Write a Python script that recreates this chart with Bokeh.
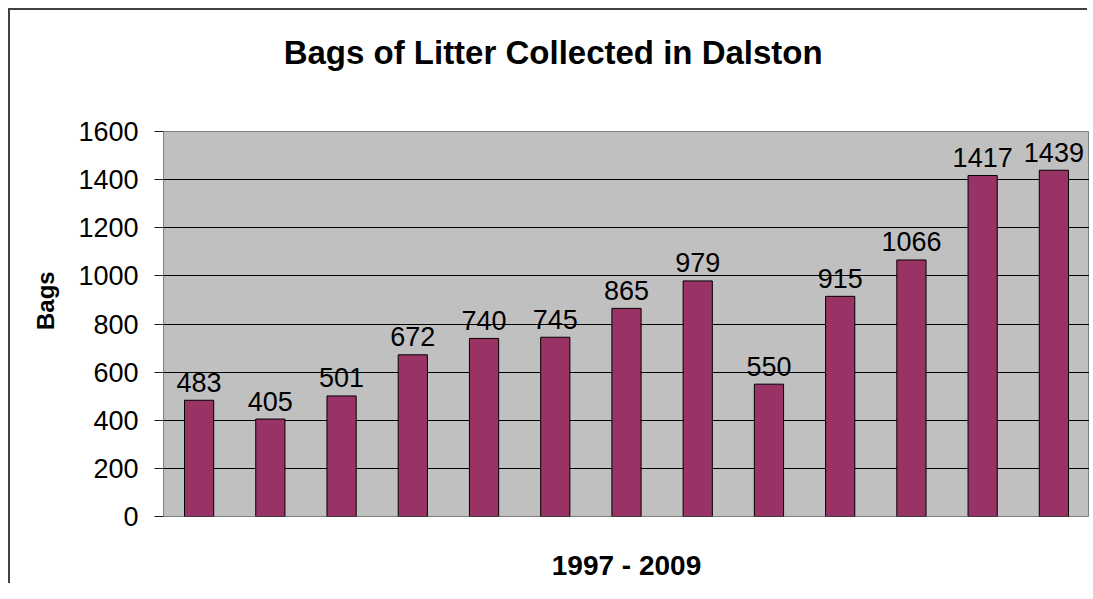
from bokeh.plotting import figure
from bokeh.layouts import column
from bokeh.models import Range1d, FactorRange, FixedTicker, ColumnDataSource, CategoricalAxis
from bokeh.embed import file_html
from bokeh.resources import INLINE

years = [str(y) for y in range(1997, 2010)]
bags = [483, 405, 501, 672, 740, 745, 865, 979, 550, 915, 1066, 1417, 1439]
y_ticks = [0, 200, 400, 600, 800, 1000, 1200, 1400, 1600]
title_text = "Bags of Litter Collected in Dalston"
x_label = "1997 - 2009"
y_label = "Bags"

FONT = "Liberation Sans"
NBSP = "\u00a0"

source = ColumnDataSource(dict(x=years, top=bags, label=[str(v) for v in bags]))

p = figure(
    width=1079, height=575,
    x_range=FactorRange(*years, range_padding=0),
    y_range=Range1d(0, 1600),
    output_backend="svg", toolbar_location=None, title=None,
    min_border_left=153, min_border_right=0, min_border_top=121, min_border_bottom=69,
)

p.background_fill_color = "#C0C0C0"
p.border_fill_color = "white"
p.outline_line_color = "#808080"
p.outline_line_width = 1


def label_only_axis(ax, text, standoff, size):
    ax.ticker = FixedTicker(ticks=[])
    ax.major_label_standoff = 0
    ax.major_tick_line_color = None
    ax.major_tick_out = 0
    ax.major_tick_in = 0
    ax.minor_tick_line_color = None
    ax.axis_line_color = None
    ax.axis_label = text
    ax.axis_label_standoff = standoff
    ax.axis_label_text_font = FONT
    ax.axis_label_text_font_size = size
    ax.axis_label_text_font_style = "bold"
    ax.axis_label_text_color = "black"


# x axis: only carries the axis title
label_only_axis(p.xaxis[0], x_label, 33, "28px")
p.xgrid.visible = False

# chart title, carried by an axis above the frame
top_axis = CategoricalAxis()
label_only_axis(top_axis, title_text + NBSP * 16, 61, "33px")
p.add_layout(top_axis, "above")

p.yaxis.ticker = FixedTicker(ticks=y_ticks)
p.yaxis.axis_line_color = "#808080"
p.yaxis.major_tick_line_color = "#202020"
p.yaxis.major_tick_out = 9
p.yaxis.major_tick_in = 0
p.yaxis.minor_tick_line_color = None
p.yaxis.major_label_text_font = FONT
p.yaxis.major_label_text_font_size = "27px"
p.yaxis.major_label_text_color = "black"
p.yaxis.major_label_standoff = 16
p.yaxis.axis_label = NBSP * 7 + y_label
p.yaxis.axis_label_standoff = 16
p.yaxis.axis_label_text_font = FONT
p.yaxis.axis_label_text_font_size = "24px"
p.yaxis.axis_label_text_font_style = "bold"
p.yaxis.axis_label_text_color = "black"

p.ygrid.ticker = FixedTicker(ticks=y_ticks[1:-1])
p.ygrid.grid_line_color = "black"
p.ygrid.grid_line_width = 1

p.vbar(x="x", top="top", width=0.41, source=source,
       fill_color="#993366", line_color="black", line_width=1)

p.text(x="x", y="top", text="label", source=source,
       text_align="center", text_baseline="alphabetic", y_offset=-18,
       text_font_size="27px", text_color="black",
       text_font={"value": FONT})

page = column(p, styles={"margin-left": "10px", "margin-top": "10px",
                         "box-shadow": "-2px -2px 0px 0px #404040"})

open("out.html", "w").write(file_html(page, INLINE))
